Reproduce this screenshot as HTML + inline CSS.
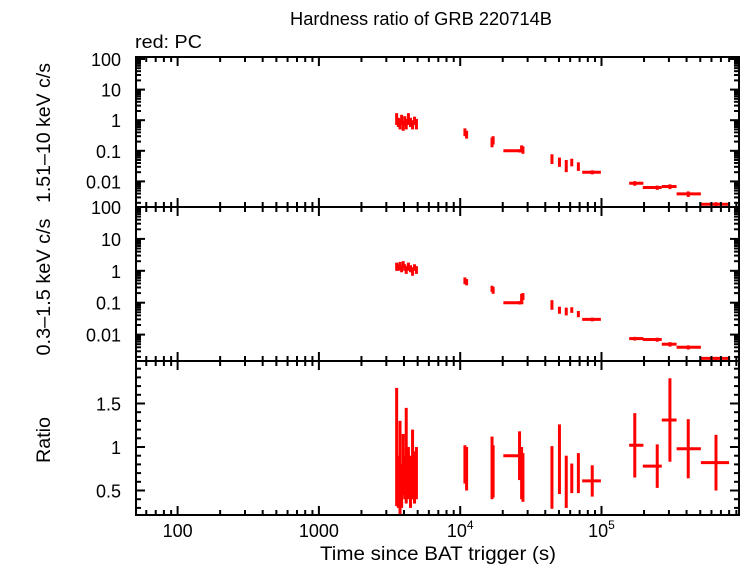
<!DOCTYPE html>
<html><head><meta charset="utf-8"><style>
html,body{margin:0;padding:0;background:#fff;}
svg{display:block;font-family:"Liberation Sans",sans-serif;}
</style></head><body>
<svg id="chart" width="742" height="566" viewBox="0 0 742 566" xmlns="http://www.w3.org/2000/svg">
<text x="421" y="25" font-size="18" text-anchor="middle" textLength="262" lengthAdjust="spacingAndGlyphs">Hardness ratio of GRB 220714B</text>
<text x="135" y="48" font-size="18" textLength="67" lengthAdjust="spacingAndGlyphs">red: PC</text>
<text transform="translate(50,133) rotate(-90)" font-size="19" text-anchor="middle" textLength="140" lengthAdjust="spacingAndGlyphs">1.51–10 keV c/s</text>
<text transform="translate(50,287) rotate(-90)" font-size="19" text-anchor="middle" textLength="137" lengthAdjust="spacingAndGlyphs">0.3–1.5 keV c/s</text>
<text transform="translate(50,440) rotate(-90)" font-size="19" text-anchor="middle" textLength="46" lengthAdjust="spacingAndGlyphs">Ratio</text>
<text x="438" y="560" font-size="19" text-anchor="middle" textLength="236" lengthAdjust="spacingAndGlyphs">Time since BAT trigger (s)</text>
<g id="marks"></g>
<g id="axes"></g>
</svg>
<script>
// ---- data ----
const times =    [3550,3650,3750,3850,3950,4050,4150,4300,4450,4600,4750,4900, 10800,11100, 16800,17100, 26300,27200,27800, 44600,50400,56300,61600,68600, 86000, 172000,248000,305000,411000,646000];
const tLo =      [3500,3600,3700,3800,3900,4000,4100,4250,4400,4550,4700,4850, 10700,11000, 16600,17000, 20200,27000,27600, 44300,50100,56000,61300,68300, 73000, 157000,196000,267000,340000,505000];
const tHi =      [3600,3700,3800,3900,4000,4100,4200,4350,4500,4650,4800,4950, 10900,11200, 17000,17300, 28000,27500,28100, 44900,50700,56600,61900,68900, 99000, 198000,267000,340000,505000,800000];
const hardVals = [1.2,0.9,0.8,1.1,0.7,1.0,0.8,1.2,0.9,0.75,1.0,0.8, 0.42,0.35, 0.2,0.23, 0.1,0.12,0.11, 0.057,0.045,0.035,0.043,0.032, 0.02, 0.0087,0.0063,0.0068,0.0039,0.0018];
const hardErr =  [0.5,0.3,0.3,0.4,0.25,0.35,0.3,0.5,0.3,0.25,0.3,0.3, 0.12,0.1, 0.07,0.07, 0.012,0.03,0.03, 0.02,0.015,0.015,0.012,0.01, 0.003, 0.0015,0.001,0.0012,0.0008,0.0003];
const softVals = [1.4,1.3,1.5,1.2,1.6,1.3,1.1,1.4,1.2,1.0,1.3,1.1, 0.5,0.45, 0.28,0.25, 0.1,0.15,0.16, 0.09,0.06,0.055,0.06,0.045, 0.03, 0.0075,0.007,0.005,0.004,0.0018];
const softErr =  [0.4,0.3,0.4,0.3,0.4,0.3,0.3,0.4,0.3,0.3,0.3,0.3, 0.12,0.1, 0.06,0.06, 0.012,0.04,0.04, 0.03,0.015,0.015,0.012,0.01, 0.004, 0.001,0.001,0.0008,0.0006,0.0002];
const ratioVals =[1.0,0.6,0.75,0.55,0.8,0.65,0.9,0.7,0.6,0.8,0.65,0.7, 0.8,0.75, 0.76,0.72, 0.9,0.7,0.65, 0.65,0.86,0.6,0.64,0.7, 0.61, 1.02,0.78,1.31,0.98,0.82];
const ratioErr = [0.68,0.3,0.55,0.25,0.35,0.25,0.55,0.3,0.3,0.4,0.3,0.3, 0.22,0.25, 0.36,0.3, 0.28,0.3,0.28, 0.36,0.4,0.3,0.17,0.23, 0.18, 0.37,0.25,0.48,0.34,0.32];
const xTicks = [100,1000,10000,100000];
const xTickLabels = ["100","1000","10","10"];
const xTickSup = ["","","4","5"];
const logTicks = [100,10,1,0.1,0.01];
const logTickLabels = ["100","10","1","0.1","0.01"];
const ratioTicks = [0.5,1,1.5];
const ratioTickLabels = ["0.5","1","1.5"];

// ---- geometry ----
const L=136, R=739;
const X = t => 177.6 + (Math.log10(t)-2)*141.3;
const panels = [
  {top:57, bot:207, y: v => 59 + (2-Math.log10(v))*30.6, log:true, name:'hard'},
  {top:207, bot:361, y: v => 207 + (2-Math.log10(v))*31.9, log:true, name:'soft'},
  {top:361, bot:515, y: v => 447 - (v-1)*87, log:false, name:'ratio'}
];
const NS='http://www.w3.org/2000/svg';
const marks=document.getElementById('marks'), axes=document.getElementById('axes');
function line(g,x1,y1,x2,y2,c,w,name){
  const l=document.createElementNS(NS,'line');
  l.setAttribute('x1',x1);l.setAttribute('y1',y1);l.setAttribute('x2',x2);l.setAttribute('y2',y2);
  l.setAttribute('stroke',c);l.setAttribute('stroke-width',w);
  
  
  g.appendChild(l);return l;
}
function text(x,y,s,anchor,name,sup){
  const t=document.createElementNS(NS,'text');
  t.setAttribute('x',x);t.setAttribute('y',y);t.setAttribute('font-size','18');t.setAttribute('text-anchor',anchor);
  t.textContent=s;
  if(sup){const ts=document.createElementNS(NS,'tspan');ts.setAttribute('dy','-8');ts.setAttribute('font-size','12');ts.textContent=sup;t.appendChild(ts);}
  
  
  axes.appendChild(t);
}
const series=[[hardVals,hardErr],[softVals,softErr],[ratioVals,ratioErr]];
panels.forEach((p,pi)=>{
  const [vals,errs]=series[pi];
  const g=document.createElementNS(NS,'g');
  
  
  marks.appendChild(g);
  for(let i=0;i<times.length;i++){
    const v=vals[i], e=errs[i];
    const yc=p.y(v);
    let y1=p.y(v+e), y2=p.y(Math.max(v-e, p.log? v*0.05 : 0.01));
    y1=Math.max(y1,p.top+1); y2=Math.min(y2,p.bot-1);
    line(g,X(times[i]),y1,X(times[i]),y2,'#f00',3,p.name+'-error-bar');
    line(g,X(tLo[i]),yc,X(tHi[i]),yc,'#f00',3,p.name+'-time-bin');
  }
  const r=document.createElementNS(NS,'rect');
  r.setAttribute('x',L);r.setAttribute('y',p.top);r.setAttribute('width',R-L);r.setAttribute('height',p.bot-p.top);
  r.setAttribute('fill','none');r.setAttribute('stroke','#000');r.setAttribute('stroke-width','2');
  
  
  axes.appendChild(r);
  for(let d=10;d<=1e6;d*=10){for(let k=1;k<10;k++){
    const t=d*k; const x=X(t); if(x<L||x>R) continue;
    const len=k===1?9:5;
    line(axes,x,p.top,x,p.top+len,'#000',2,'x-tick');
    line(axes,x,p.bot,x,p.bot-len,'#000',2,'x-tick');
  }}
  if(p.log){
    for(let d=0.001;d<=100;d*=10){for(let k=1;k<10;k++){
      const v=d*k; const y=p.y(v); if(y<p.top||y>p.bot) continue;
      const len=k===1?9:5;
      line(axes,L,y,L+len,y,'#000',2,'y-tick');
      line(axes,R,y,R-len,y,'#000',2,'y-tick');
    }}
    logTicks.forEach((v,i)=>text(121,p.y(v)+7,logTickLabels[i],'end',p.name+'-y-tick-label'));
  } else {
    for(let v=0.3;v<=1.95;v+=0.1){
      const y=p.y(v); const major=Math.abs(v*2-Math.round(v*2))<0.01; const len=major?9:5;
      line(axes,L,y,L+len,y,'#000',2,'y-tick');
      line(axes,R,y,R-len,y,'#000',2,'y-tick');
    }
    ratioTicks.forEach((v,i)=>text(121,p.y(v)+7,ratioTickLabels[i],'end','ratio-y-tick-label'));
  }
});
xTicks.forEach((t,i)=>text(X(t),537,xTickLabels[i],'middle','x-tick-label',xTickSup[i]));
</script>
</body></html>
